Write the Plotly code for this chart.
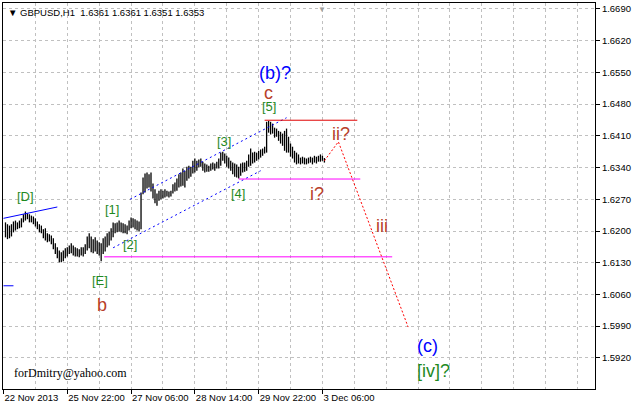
import plotly.graph_objects as go

# H1 bars, counted without weekend gaps (index 0 = 22 Nov 2013 tick)
bar_idx = list(range(1, 162))
bar_high = [
    1.6219, 1.6215, 1.6212, 1.6215, 1.6221, 1.6223, 1.6219, 1.6223, 1.6228, 1.6237,
    1.6243, 1.6239, 1.6237, 1.6234, 1.6232, 1.6228, 1.6221, 1.6215, 1.6212, 1.6204,
    1.6206, 1.6195, 1.6193, 1.6190, 1.6184, 1.6173, 1.6164, 1.6157, 1.6153, 1.6157,
    1.6162, 1.6164, 1.6168, 1.6173, 1.6168, 1.6164, 1.6162, 1.6160, 1.6164, 1.6164,
    1.6171, 1.6188, 1.6195, 1.6188, 1.6182, 1.6186, 1.6179, 1.6175, 1.6173, 1.6184,
    1.6188, 1.6195, 1.6199, 1.6206, 1.6219, 1.6217, 1.6219, 1.6223, 1.6219, 1.6217,
    1.6215, 1.6212, 1.6223, 1.6230, 1.6228, 1.6226, 1.6223, 1.6221, 1.6285, 1.6318,
    1.6327, 1.6329, 1.6325, 1.6329, 1.6305, 1.6292, 1.6283, 1.6289, 1.6292, 1.6289,
    1.6292, 1.6289, 1.6287, 1.6289, 1.6303, 1.6307, 1.6316, 1.6325, 1.6329, 1.6338,
    1.6333, 1.6342, 1.6344, 1.6342, 1.6355, 1.6360, 1.6355, 1.6358, 1.6360, 1.6353,
    1.6349, 1.6347, 1.6344, 1.6349, 1.6351, 1.6349, 1.6353, 1.6360, 1.6373, 1.6375,
    1.6371, 1.6366, 1.6362, 1.6355, 1.6351, 1.6349, 1.6347, 1.6342, 1.6349, 1.6351,
    1.6351, 1.6355, 1.6369, 1.6382, 1.6373, 1.6375, 1.6373, 1.6377, 1.6380, 1.6382,
    1.6386, 1.6441, 1.6443, 1.6441, 1.6437, 1.6428, 1.6426, 1.6421, 1.6419, 1.6415,
    1.6421, 1.6426, 1.6408, 1.6393, 1.6386, 1.6377, 1.6373, 1.6369, 1.6362, 1.6364,
    1.6362, 1.6360, 1.6362, 1.6364, 1.6362, 1.6366, 1.6364, 1.6366, 1.6369, 1.6366,
    1.6361,
]
bar_low = [
    1.6186, 1.6182, 1.6184, 1.6188, 1.6197, 1.6201, 1.6204, 1.6206, 1.6208, 1.6219,
    1.6223, 1.6226, 1.6219, 1.6219, 1.6215, 1.6210, 1.6204, 1.6197, 1.6195, 1.6184,
    1.6179, 1.6175, 1.6177, 1.6171, 1.6160, 1.6149, 1.6140, 1.6131, 1.6131, 1.6133,
    1.6140, 1.6144, 1.6149, 1.6151, 1.6146, 1.6144, 1.6144, 1.6142, 1.6146, 1.6144,
    1.6149, 1.6157, 1.6162, 1.6153, 1.6151, 1.6155, 1.6149, 1.6146, 1.6133, 1.6149,
    1.6155, 1.6164, 1.6168, 1.6179, 1.6186, 1.6195, 1.6197, 1.6199, 1.6197, 1.6195,
    1.6195, 1.6193, 1.6201, 1.6206, 1.6208, 1.6204, 1.6201, 1.6199, 1.6204, 1.6281,
    1.6285, 1.6294, 1.6296, 1.6287, 1.6272, 1.6261, 1.6256, 1.6267, 1.6270, 1.6272,
    1.6274, 1.6276, 1.6274, 1.6276, 1.6283, 1.6287, 1.6289, 1.6296, 1.6298, 1.6300,
    1.6296, 1.6311, 1.6316, 1.6320, 1.6327, 1.6329, 1.6333, 1.6340, 1.6342, 1.6333,
    1.6329, 1.6331, 1.6331, 1.6333, 1.6336, 1.6333, 1.6338, 1.6338, 1.6344, 1.6355,
    1.6349, 1.6342, 1.6338, 1.6333, 1.6325, 1.6320, 1.6318, 1.6316, 1.6322, 1.6329,
    1.6331, 1.6333, 1.6342, 1.6344, 1.6349, 1.6351, 1.6355, 1.6358, 1.6362, 1.6366,
    1.6371, 1.6373, 1.6417, 1.6413, 1.6415, 1.6406, 1.6408, 1.6399, 1.6393, 1.6388,
    1.6377, 1.6373, 1.6373, 1.6364, 1.6360, 1.6351, 1.6347, 1.6349, 1.6347, 1.6349,
    1.6347, 1.6347, 1.6349, 1.6351, 1.6347, 1.6351, 1.6349, 1.6353, 1.6353, 1.6355,
    1.6351,
]

tick_pos = [0, 32, 64, 96, 128, 160]
tick_labels = ["22 Nov 2013", "25 Nov 22:00", "27 Nov 06:00",
               "28 Nov 14:00", "29 Nov 22:00", "3 Dec 06:00"]
price_ticks = [1.5920, 1.5990, 1.6060, 1.6130, 1.6200, 1.6270,
               1.6340, 1.6410, 1.6480, 1.6550, 1.6620, 1.6690]

# analyst drawings (bar index, price)
trend_d_x, trend_d_y = [0, 27], [1.6228, 1.6253]
trend_low_x, trend_low_y = [0, 5], [1.60791, 1.60791]
chan_up_x, chan_up_y = [63.5, 142], [1.6270, 1.6450]
chan_dn_x, chan_dn_y = [55, 129], [1.6163, 1.6333]
top_line_x, top_line_y = [131, 177.5], [1.64445, 1.64445]
i_line_x, i_line_y = [118, 179], [1.63147, 1.63147]
e_line_x, e_line_y = [50.5, 195], [1.61430, 1.61430]
proj_x, proj_y = [161, 168, 203], [1.6355, 1.6397, 1.5988]

BLUE = "#0000ff"
GREEN = "#1f8a1f"
BROWN = "#b8402a"
wave_labels = [
    ("(b)?", 136.25, 1.6549, BLUE, 18),
    ("c", 132.75, 1.6505, BROWN, 18),
    ("[5]", 133.25, 1.6474, GREEN, 13),
    ("[3]", 110.75, 1.6397, GREEN, 13),
    ("[4]", 117.75, 1.6283, GREEN, 13),
    ("[D]", 11.25, 1.6276, GREEN, 13),
    ("[1]", 54.25, 1.6248, GREEN, 13),
    ("[2]", 63.25, 1.6171, GREEN, 13),
    ("[E]", 48.25, 1.6091, GREEN, 13),
    ("b", 49.25, 1.6036, BROWN, 18),
    ("i?", 157.25, 1.6281, BROWN, 18),
    ("ii?", 169.25, 1.6415, BROWN, 18),
    ("iii", 189.75, 1.6212, BROWN, 18),
    ("(c)", 212.75, 1.5946, BLUE, 18),
    ("[iv]?", 215.75, 1.5891, GREEN, 18),
]

bx, by = [], []
for i, h, l in zip(bar_idx, bar_high, bar_low):
    bx += [i, i, None]
    by += [l, h, None]

fig = go.Figure()
fig.add_trace(go.Scatter(x=bx, y=by, mode="lines", line=dict(color="black", width=1.3)))

def seg(x, y, color, dash="solid"):
    fig.add_trace(go.Scatter(x=x, y=y, mode="lines",
                             line=dict(color=color, width=1, dash=dash)))

seg(trend_d_x, trend_d_y, BLUE)
seg(trend_low_x, trend_low_y, BLUE)
seg(chan_up_x, chan_up_y, BLUE, "2px,3px")
seg(chan_dn_x, chan_dn_y, BLUE, "2px,3px")
seg(top_line_x, top_line_y, "#e00000")
seg(i_line_x, i_line_y, "#ff00ff")
seg(e_line_x, e_line_y, "#ff00ff")
seg(proj_x, proj_y, "#ff0000", "2px,2px")

ann = []
for txt, x, y, col, sz in wave_labels:
    ann.append(dict(x=x, y=y, text=txt, showarrow=False, xanchor="center", yanchor="middle",
                    font=dict(family="Liberation Sans, Arial", size=sz, color=col)))
ann.append(dict(x=1.25, y=1.6683, text="▼ GBPUSD,H1\u00a0\u00a01.6361 1.6361 1.6351 1.6353",
                showarrow=False, xanchor="left", yanchor="middle",
                font=dict(family="Liberation Sans, Arial", size=9.5, color="black")))
ann.append(dict(x=4.25, y=1.5886, text="forDmitry@yahoo.com", showarrow=False,
                xanchor="left", yanchor="middle",
                font=dict(family="Liberation Serif, Times New Roman", size=12, color="black")))
ann.append(dict(x=160, y=1, yref="paper", text="▼", showarrow=False, yanchor="top",
                font=dict(size=8, color="#a0a0a0")))

grid = dict(gridcolor="#c0c0c0", griddash="3px,3px", gridwidth=1)

fig.update_layout(
    width=633, height=407,
    margin=dict(l=3, r=36, t=2, b=18),
    paper_bgcolor="white", plot_bgcolor="white",
    showlegend=False,
    annotations=ann,
    font=dict(family="Liberation Sans, Arial", size=9.5, color="black"),
    xaxis=dict(
        range=[-0.25, 296.75], zeroline=False, showline=True, mirror=True,
        linecolor="black", linewidth=1,
        tickmode="array", tickvals=tick_pos, ticktext=tick_labels, tickangle=0,
        ticks="outside", ticklen=4, tickcolor="black",
        ticklabelposition="outside right", showgrid=False,
        minor=dict(dtick=16, tick0=0, showgrid=True, ticks="", **grid),
    ),
    yaxis=dict(
        range=[1.58513, 1.67032], side="right", zeroline=False, showline=True,
        mirror=True, linecolor="black", linewidth=1,
        tickmode="array", tickvals=price_ticks,
        ticktext=[f"{v:.4f}" for v in price_ticks],
        ticks="outside", ticklen=4, tickcolor="black", showgrid=True, **grid,
    ),
)

fig.write_html("out.html", config={"displayModeBar": False},
               post_script="document.body.style.margin='0';")
